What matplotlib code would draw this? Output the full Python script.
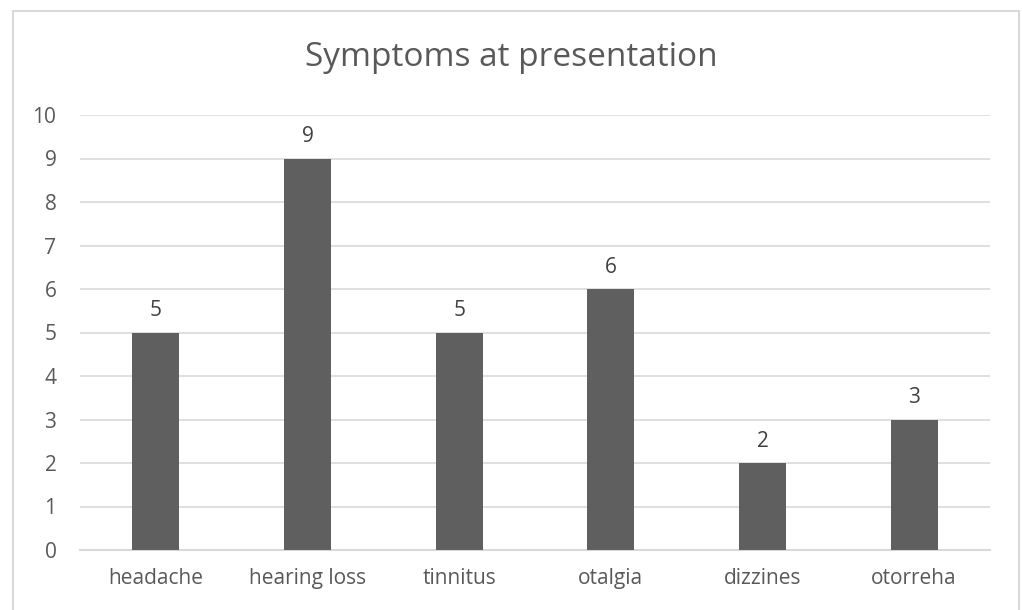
import matplotlib.pyplot as plt
from matplotlib.patches import Rectangle

# symptom counts at first presentation
symptoms = ['headache', 'hearing loss', 'tinnitus', 'otalgia', 'dizzines', 'otorreha']
counts = [5, 9, 5, 6, 2, 3]
y_ticks = list(range(0, 11))

plt.rcParams['font.family'] = ['Open Sans', 'DejaVu Sans']
txt = '#595959'
grid = '#d9d9d9'

fig = plt.figure(figsize=(10.22, 6.10), dpi=100)
W, H = 1022, 610

# light frame around the chart area
fig.patches.append(Rectangle((13 / W, -0.05), (1019 - 13) / W, 1.05 - 11 / H,
                             transform=fig.transFigure, fill=False,
                             edgecolor=grid, linewidth=1.5))

ax = fig.add_axes([80 / W, 1 - 550 / H, (990 - 80) / W, (550 - 115) / H])
x = list(range(len(symptoms)))
ax.bar(x, counts, width=0.31, color='#5f5f5f', zorder=3)

for xi, c in zip(x, counts):
    ax.annotate(str(c), (xi, c), xytext=(0, 8), textcoords='offset points',
                ha='center', va='bottom', fontsize=15, color='#404040')

ax.set_xlim(-0.5, len(symptoms) - 0.5)
ax.set_ylim(0, 10)
ax.set_yticks(y_ticks)
ax.set_xticks(x)
ax.set_xticklabels(symptoms)
ax.tick_params(axis='both', length=0, labelsize=15, colors=txt)
ax.tick_params(axis='x', pad=13)
ax.tick_params(axis='y', pad=17)
ax.yaxis.grid(True, color=grid, linewidth=1.2, zorder=0)
for s in ['top', 'right', 'left']:
    ax.spines[s].set_visible(False)
ax.spines['bottom'].set_color(grid)
ax.spines['bottom'].set_linewidth(1.5)

fig.text(0.5, 1 - 58 / H, 'Symptoms at presentation', ha='center', va='center',
         fontsize=24, color=txt)

fig.savefig('out.png', dpi=100)
